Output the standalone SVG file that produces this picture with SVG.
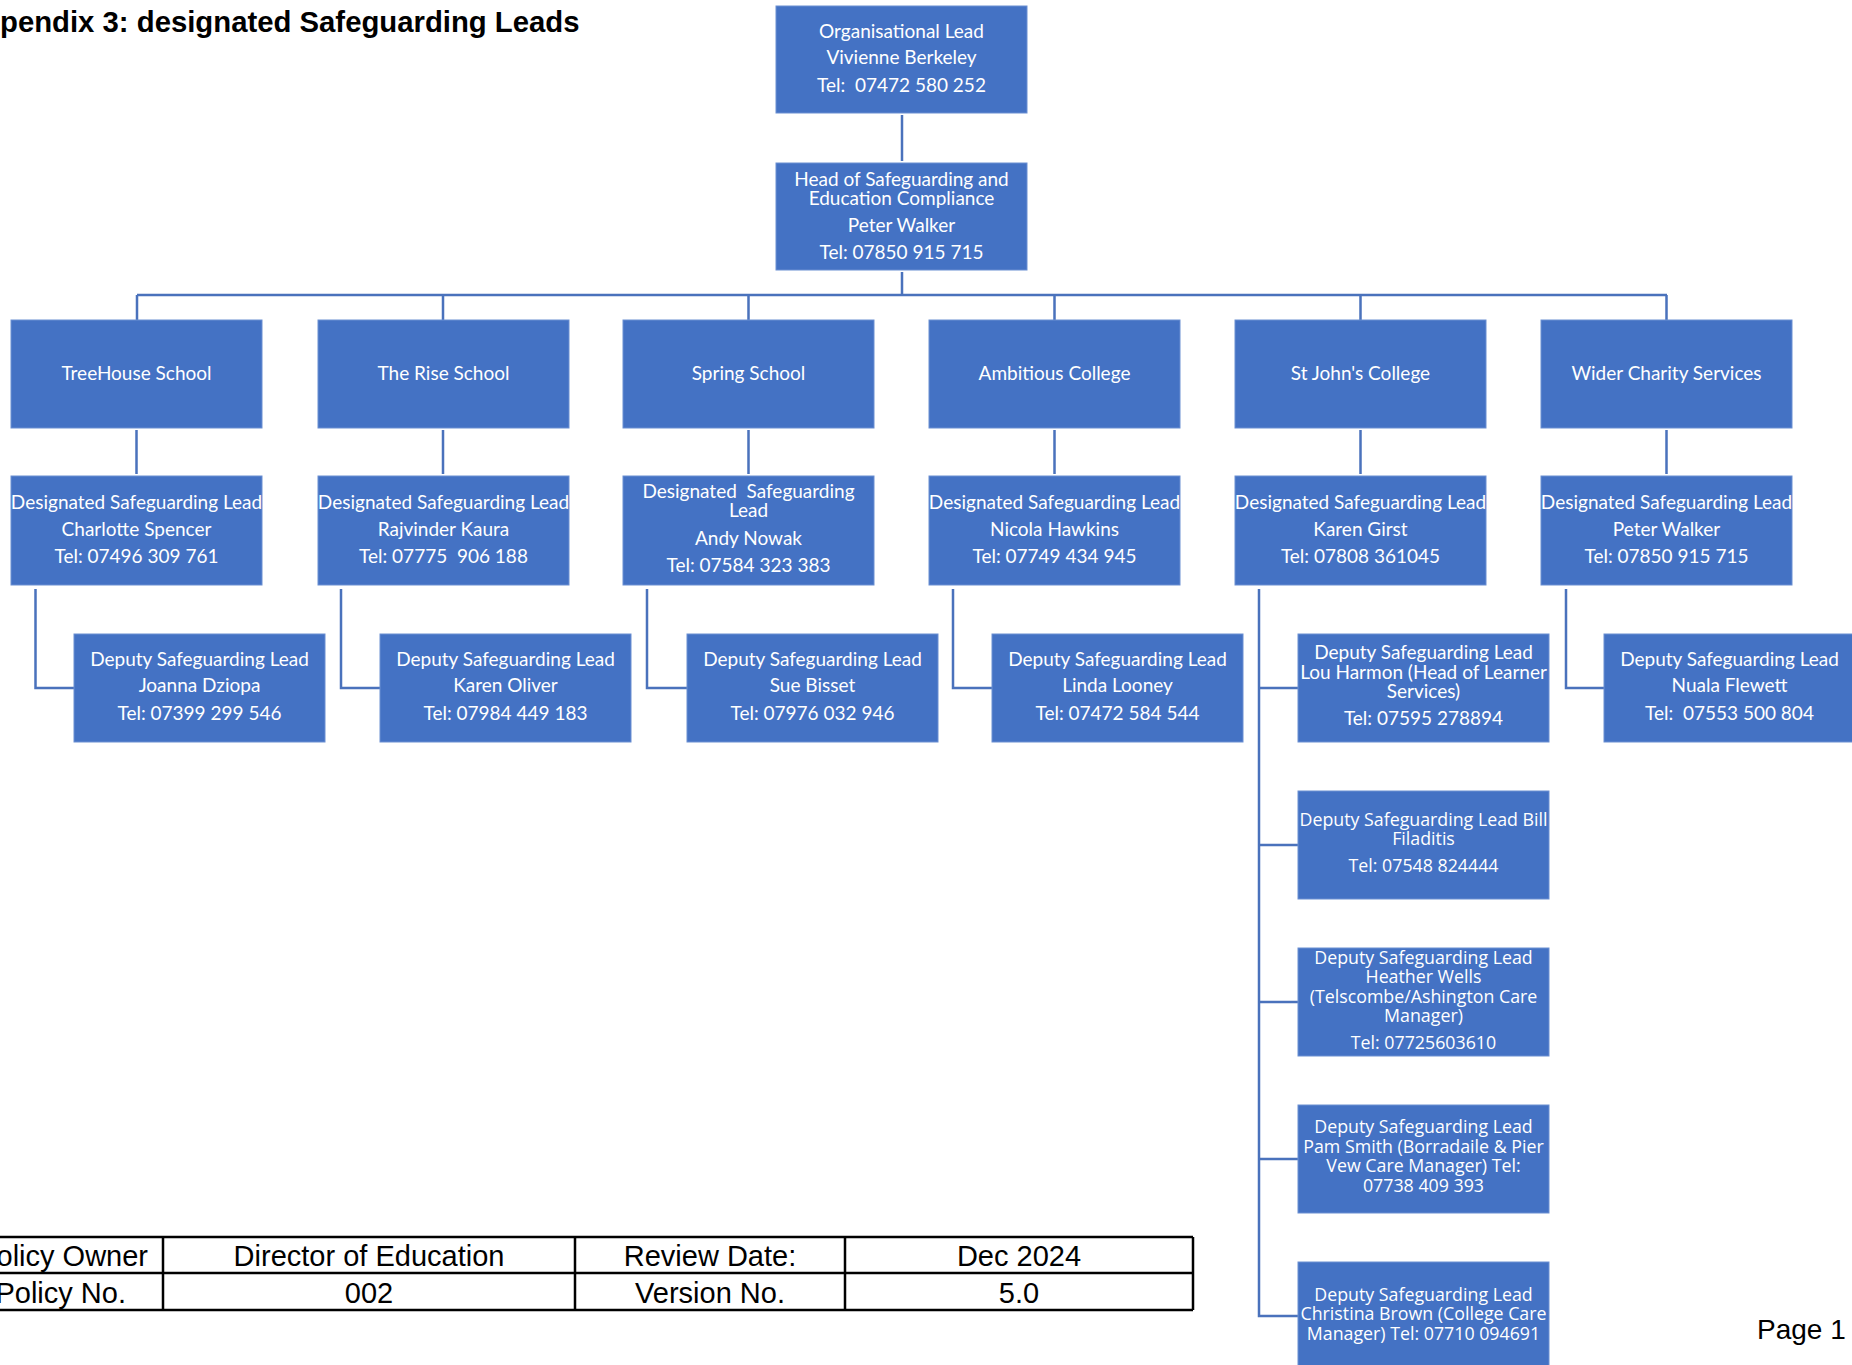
<svg xmlns="http://www.w3.org/2000/svg" width="1852" height="1365" viewBox="0 0 1852 1365">
<style>
.box{fill:#4472C4;stroke:#6b8fd2;stroke-width:1}
.t{font-family:Lato,"Liberation Sans",sans-serif;font-size:19px;fill:#fff;text-anchor:middle}
.w{font-family:"Open Sans","Liberation Sans",sans-serif;font-size:17.8px;fill:#fff;text-anchor:middle}
.c{stroke:#4A72BC;stroke-width:2.5;fill:none}
.tb{stroke:#000;stroke-width:2.5;fill:none}
.tt{font-family:"Liberation Sans",Arial,sans-serif;font-size:29px;fill:#000;text-anchor:middle}
</style>
<rect width="1852" height="1365" fill="#fff"/>
<text x="0" y="32" style="font-family:'Liberation Sans',Arial,sans-serif;font-size:29.3px;font-weight:bold;fill:#000">pendix 3: designated Safeguarding Leads</text>

<g id="connectors">
<path class="c" d="M902 115V161"/>
<path class="c" d="M902 272V295M137 295H1667M137 295V320M443 295V320M748.5 295V320M1054.5 295V320M1360.5 295V320M1666.5 295V320"/>
<path class="c" d="M136.5 430V474M443 430V474M748.5 430V474M1054.5 430V474M1360.5 430V474M1666.5 430V474"/>
<path class="c" d="M35.5 589V688H74M341 589V688H380M647 589V688H687M953 589V688H992M1566 589V688H1604"/>
<path class="c" d="M1259 589V1316H1298M1259 688H1298M1259 845H1298M1259 1002H1298M1259 1159H1298"/>
</g>

<g id="n-org"><rect class="box" x="776" y="6" width="251" height="107"/>
<text class="t" x="901.5" y="38">Organisational Lead</text><text class="t" x="901.5" y="64">Vivienne Berkeley</text><text class="t" x="901.5" y="92" xml:space="preserve">Tel:  07472 580 252</text></g>

<g id="n-head"><rect class="box" x="776" y="163" width="251" height="107"/>
<text class="t" x="901.5" y="186">Head of Safeguarding and</text><text class="t" x="901.5" y="205">Education Compliance</text><text class="t" x="901.5" y="232">Peter Walker</text><text class="t" x="901.5" y="259">Tel: 07850 915 715</text></g>

<g id="n-treehouse"><rect class="box" x="11" y="320" width="251" height="108"/><text class="t" x="136.5" y="380">TreeHouse School</text></g>
<g id="n-rise"><rect class="box" x="318" y="320" width="251" height="108"/><text class="t" x="443.5" y="380">The Rise School</text></g>
<g id="n-spring"><rect class="box" x="623" y="320" width="251" height="108"/><text class="t" x="748.5" y="380">Spring School</text></g>
<g id="n-ambitious"><rect class="box" x="929" y="320" width="251" height="108"/><text class="t" x="1054.5" y="380">Ambitious College</text></g>
<g id="n-stjohns"><rect class="box" x="1235" y="320" width="251" height="108"/><text class="t" x="1360.5" y="380">St John's College</text></g>
<g id="n-wider"><rect class="box" x="1541" y="320" width="251" height="108"/><text class="t" x="1666.5" y="380">Wider Charity Services</text></g>

<g id="n-dsl-treehouse"><rect class="box" x="11" y="476" width="251" height="109"/>
<text class="t" x="136.5" y="509">Designated Safeguarding Lead</text><text class="t" x="136.5" y="536">Charlotte Spencer</text><text class="t" x="136.5" y="563">Tel: 07496 309 761</text></g>
<g id="n-dsl-rise"><rect class="box" x="318" y="476" width="251" height="109"/>
<text class="t" x="443.5" y="509">Designated Safeguarding Lead</text><text class="t" x="443.5" y="536">Rajvinder Kaura</text><text class="t" x="443.5" y="563" xml:space="preserve">Tel: 07775  906 188</text></g>
<g id="n-dsl-spring"><rect class="box" x="623" y="476" width="251" height="109"/>
<text class="t" x="748.5" y="498" xml:space="preserve">Designated  Safeguarding</text><text class="t" x="748.5" y="517">Lead</text><text class="t" x="748.5" y="545">Andy Nowak</text><text class="t" x="748.5" y="572">Tel: 07584 323 383</text></g>
<g id="n-dsl-ambitious"><rect class="box" x="929" y="476" width="251" height="109"/>
<text class="t" x="1054.5" y="509">Designated Safeguarding Lead</text><text class="t" x="1054.5" y="536">Nicola Hawkins</text><text class="t" x="1054.5" y="563">Tel: 07749 434 945</text></g>
<g id="n-dsl-stjohns"><rect class="box" x="1235" y="476" width="251" height="109"/>
<text class="t" x="1360.5" y="509">Designated Safeguarding Lead</text><text class="t" x="1360.5" y="536">Karen Girst</text><text class="t" x="1360.5" y="563">Tel: 07808 361045</text></g>
<g id="n-dsl-wider"><rect class="box" x="1541" y="476" width="251" height="109"/>
<text class="t" x="1666.5" y="509">Designated Safeguarding Lead</text><text class="t" x="1666.5" y="536">Peter Walker</text><text class="t" x="1666.5" y="563">Tel: 07850 915 715</text></g>

<g id="n-dep-treehouse"><rect class="box" x="74" y="634" width="251" height="108"/>
<text class="t" x="199.5" y="666">Deputy Safeguarding Lead</text><text class="t" x="199.5" y="692">Joanna Dziopa</text><text class="t" x="199.5" y="720">Tel: 07399 299 546</text></g>
<g id="n-dep-rise"><rect class="box" x="380" y="634" width="251" height="108"/>
<text class="t" x="505.5" y="666">Deputy Safeguarding Lead</text><text class="t" x="505.5" y="692">Karen Oliver</text><text class="t" x="505.5" y="720">Tel: 07984 449 183</text></g>
<g id="n-dep-spring"><rect class="box" x="687" y="634" width="251" height="108"/>
<text class="t" x="812.5" y="666">Deputy Safeguarding Lead</text><text class="t" x="812.5" y="692">Sue Bisset</text><text class="t" x="812.5" y="720">Tel: 07976 032 946</text></g>
<g id="n-dep-ambitious"><rect class="box" x="992" y="634" width="251" height="108"/>
<text class="t" x="1117.5" y="666">Deputy Safeguarding Lead</text><text class="t" x="1117.5" y="692">Linda Looney</text><text class="t" x="1117.5" y="720">Tel: 07472 584 544</text></g>
<g id="n-dep-wider"><rect class="box" x="1604" y="634" width="251" height="108"/>
<text class="t" x="1729.5" y="666">Deputy Safeguarding Lead</text><text class="t" x="1729.5" y="692">Nuala Flewett</text><text class="t" x="1729.5" y="720" xml:space="preserve">Tel:  07553 500 804</text></g>

<g id="n-dep-lou"><rect class="box" x="1298" y="634" width="251" height="108"/>
<text class="t" x="1423.5" y="659">Deputy Safeguarding Lead</text><text class="t" x="1423.5" y="679">Lou Harmon (Head of Learner</text><text class="t" x="1423.5" y="698">Services)</text><text class="t" x="1423.5" y="725">Tel: 07595 278894</text></g>
<g id="n-dep-bill"><rect class="box" x="1298" y="791" width="251" height="108"/>
<text class="w" x="1423.5" y="826">Deputy Safeguarding Lead Bill</text><text class="w" x="1423.5" y="845">Filaditis</text><text class="w" x="1423.5" y="872">Tel: 07548 824444</text></g>
<g id="n-dep-heather"><rect class="box" x="1298" y="948" width="251" height="108"/>
<text class="w" x="1423.5" y="964">Deputy Safeguarding Lead</text><text class="w" x="1423.5" y="983">Heather Wells</text><text class="w" x="1423.5" y="1003">(Telscombe/Ashington Care</text><text class="w" x="1423.5" y="1022">Manager)</text><text class="w" x="1423.5" y="1049">Tel: 07725603610</text></g>
<g id="n-dep-pam"><rect class="box" x="1298" y="1105" width="251" height="108"/>
<text class="w" x="1423.5" y="1133">Deputy Safeguarding Lead</text><text class="w" x="1423.5" y="1153">Pam Smith (Borradaile &amp; Pier</text><text class="w" x="1423.5" y="1172">Vew Care Manager) Tel:</text><text class="w" x="1423.5" y="1192">07738 409 393</text></g>
<g id="n-dep-christina"><rect class="box" x="1298" y="1262" width="251" height="110"/>
<text class="w" x="1423.5" y="1301">Deputy Safeguarding Lead</text><text class="w" x="1423.5" y="1320">Christina Brown (College Care</text><text class="w" x="1423.5" y="1340">Manager) Tel: 07710 094691</text></g>

<g id="footer-table">
<path class="tb" d="M0 1237H1193M0 1273H1193M0 1310H1193M163 1237V1310M575 1237V1310M845 1237V1310M1193 1237V1310"/>
<text class="tt" x="148" y="1266" style="text-anchor:end">olicy Owner</text>
<text class="tt" x="369" y="1266">Director of Education</text>
<text class="tt" x="710" y="1266">Review Date:</text>
<text class="tt" x="1019" y="1266">Dec 2024</text>
<text class="tt" x="126" y="1303" style="text-anchor:end">Policy No.</text>
<text class="tt" x="369" y="1303">002</text>
<text class="tt" x="710" y="1303">Version No.</text>
<text class="tt" x="1019" y="1303">5.0</text>
</g>
<text x="1757" y="1339" style="font-family:'Liberation Sans',Arial,sans-serif;font-size:28px;fill:#000">Page 1</text>
</svg>
